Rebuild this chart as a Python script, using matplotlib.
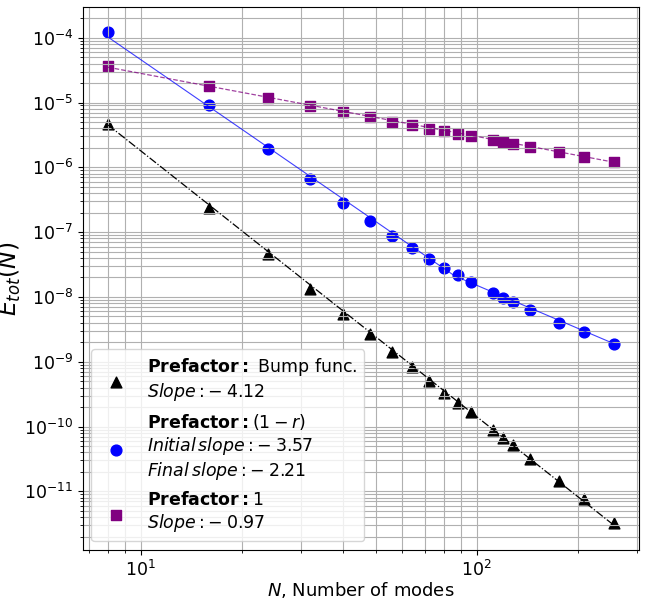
import numpy as np
import matplotlib
matplotlib.use("Agg")
import matplotlib.pyplot as plt
from matplotlib.ticker import LogLocator, NullFormatter

# number of modes
N = [8, 16, 24, 32, 40, 48, 56, 64, 72, 80, 88, 96, 112, 120, 128, 144, 176, 208, 256]

# total error, prefactor = bump function
err_bump = [4.6e-6, 2.36e-7, 4.6e-8, 1.33e-8, 5.4e-9, 2.66e-9, 1.4e-9, 8.3e-10, 5.05e-10,
            3.33e-10, 2.33e-10, 1.67e-10, 8.9e-11, 6.7e-11, 5.2e-11, 3.2e-11, 1.47e-11,
            7.5e-12, 3.3e-12]
# total error, prefactor = (1 - r)
err_lin = [1.24e-4, 9.2e-6, 1.92e-6, 6.6e-7, 2.85e-7, 1.5e-7, 8.7e-8, 5.74e-8, 3.84e-8,
           2.82e-8, 2.2e-8, 1.69e-8, 1.15e-8, 9.8e-9, 8.4e-9, 6.3e-9, 3.93e-9, 2.89e-9,
           1.86e-9]
# total error, prefactor = 1
err_one = [3.64e-5, 1.77e-5, 1.18e-5, 8.78e-6, 7.18e-6, 5.93e-6, 4.96e-6, 4.46e-6, 3.87e-6,
           3.6e-6, 3.24e-6, 3.05e-6, 2.61e-6, 2.47e-6, 2.3e-6, 2.04e-6, 1.71e-6, 1.45e-6,
           1.19e-6]

# fitted lines
fit_bump_N = [8, 256]
fit_bump = [4.5e-6, 3.0e-12]
fit_lin_N = [8, 86, 256]
fit_lin = [1.02e-4, 2.11e-8, 1.9e-9]
fit_one_N = [8, 256]
fit_one = [3.5e-5, 1.2e-6]

lab_bump = r'$\mathbf{Prefactor:}$ Bump func.' + '\n' + r'$Slope: -\:4.12$'
lab_lin = (r'$\mathbf{Prefactor:}(1-r)$' + '\n' + r'$Initial\,slope: -\:3.57$' + '\n'
           + r'$Final\,slope: -\:2.21$')
lab_one = r'$\mathbf{Prefactor:}1$' + '\n' + r'$Slope: -\:0.97$'

fig = plt.figure(figsize=(6.47, 6.07), dpi=100)
ax = fig.add_axes([0.128, 0.094, 0.860, 0.8945])

ax.scatter(N, err_bump, marker='^', s=60, color='k', label=lab_bump)
ax.scatter(N, err_lin, marker='o', s=60, color='blue', label=lab_lin)
ax.scatter(N, err_one, marker='s', s=50, color='purple', label=lab_one)

ax.plot(fit_bump_N, fit_bump, color='k', ls='-.', lw=0.9)
ax.plot(fit_lin_N, fit_lin, color='blue', ls='-', lw=0.8, alpha=0.75)
ax.plot(fit_one_N, fit_one, color='purple', ls='--', lw=0.9, alpha=0.75)

ax.set_xscale('log')
ax.set_yscale('log')
ax.yaxis.set_major_locator(LogLocator(base=10, numticks=30))
ax.yaxis.set_minor_locator(LogLocator(base=10, subs=np.arange(2, 10), numticks=30))
ax.yaxis.set_minor_formatter(NullFormatter())

ax.grid(True, which='both')
ax.tick_params(labelsize=12.5)
ax.set_xlabel(r'$N$, Number of modes', fontsize=13, labelpad=0.5)
ax.set_ylabel(r'$E_{tot}(N)$', fontsize=17, labelpad=1)

ax.legend(loc='lower left', fontsize=12.5)

fig.savefig('out.png', dpi=100)
